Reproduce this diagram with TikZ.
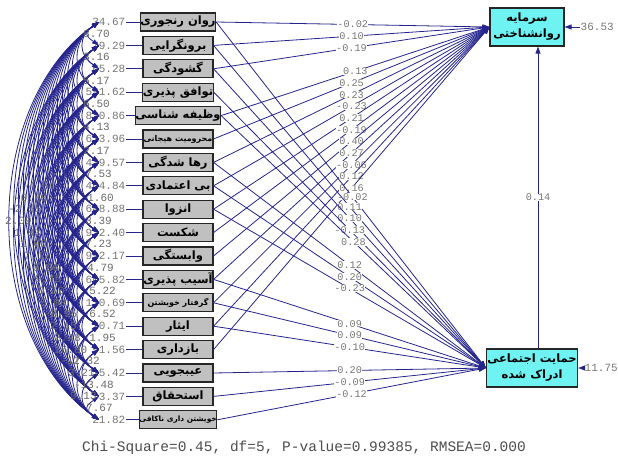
\documentclass[tikz,border=0pt]{standalone}
\usepackage{fontspec}
\setmonofont{Liberation Mono}
\newfontfamily\arabicfont[Script=Arabic]{DejaVu Sans}
\TeXXeTstate=1
\usepackage{tikz}
\usetikzlibrary{arrows.meta}
\definecolor{lisblue}{RGB}{36,36,140}
\definecolor{boxgray}{RGB}{192,192,192}
\definecolor{boxcyan}{RGB}{110,242,242}
\definecolor{labgray}{RGB}{118,118,118}
\tikzstyle{obs}=[draw=black!85, line width=1.1pt, fill=boxgray, minimum width=70pt, minimum height=18pt, inner sep=0pt, font=\arabicfont\bfseries\fontsize{11.5}{12}\selectfont]
\tikzstyle{obssmall}=[obs, font=\arabicfont\bfseries\fontsize{8}{8}\selectfont]
\tikzstyle{lat}=[draw=black!85, line width=1.1pt, fill=boxcyan, minimum height=38pt, align=center, inner sep=1pt, font=\arabicfont\bfseries\fontsize{11.5}{16}\selectfont]
\tikzstyle{coef}=[fill=white, inner sep=0.3pt, text=labgray, font=\ttfamily\fontsize{10.2}{10.2}\selectfont]
\tikzstyle{varlab}=[inner sep=0.5pt, text=labgray, font=\ttfamily\fontsize{11}{11}\selectfont]
\tikzstyle{covlab}=[inner sep=0pt, text=labgray!90!black, font=\ttfamily\fontsize{11}{11}\selectfont]
\tikzstyle{varline}=[draw=lisblue, line width=0.8pt]
\tikzstyle{lispath}=[draw=lisblue, line width=0.8pt, -{Triangle[length=7pt,width=5pt]}]
\tikzstyle{covarc}=[draw=lisblue, line width=0.8pt, {Triangle[length=7pt,width=4.5pt]}-{Triangle[length=7pt,width=4.5pt]}]

\begin{document}
\begin{tikzpicture}[x=1pt,y=-1pt]
\useasboundingbox (0,0) rectangle (618,460);

\node[obs] (obs1) at (178,22) {\beginR روان رنجوری\endR};
\node[obs] (obs2) at (178,45.4) {\beginR برونگرایی\endR};
\node[obs] (obs3) at (178,68.8) {\beginR گشودگی\endR};
\node[obs] (obs4) at (178,92.2) {\beginR توافق پذیری\endR};
\node[obs] (obs5) at (178,115.6) {\beginR وظیفه شناسی\endR};
\node[obssmall] (obs6) at (178,139) {\beginR محرومیت هیجانی\endR};
\node[obs] (obs7) at (178,162.4) {\beginR رها شدگی\endR};
\node[obs] (obs8) at (178,185.8) {\beginR بی اعتمادی\endR};
\node[obs] (obs9) at (178,209.2) {\beginR انزوا\endR};
\node[obs] (obs10) at (178,232.6) {\beginR شکست\endR};
\node[obs] (obs11) at (178,256) {\beginR وابستگی\endR};
\node[obs] (obs12) at (178,279.4) {\beginR آسیب پذیری\endR};
\node[obssmall] (obs13) at (178,302.8) {\beginR گرفتار خویشتن\endR};
\node[obs] (obs14) at (178,326.2) {\beginR ایثار\endR};
\node[obs] (obs15) at (178,349.6) {\beginR بازداری\endR};
\node[obs] (obs16) at (178,373) {\beginR عیبجویی\endR};
\node[obs] (obs17) at (178,396.4) {\beginR استحقاق\endR};
\node[obssmall, font=\arabicfont\bfseries\fontsize{7.4}{8}\selectfont] (obs18) at (178,419.8) {\beginR خویشتن داری ناکافی\endR};

\node[lat, minimum width=74pt] (psy) at (527,27) {\beginR سرمایه\endR\\\beginR روانشناختی\endR};
\node[lat, minimum width=81pt] (sup) at (532,368) {\beginR حمایت اجتماعی\endR\\\beginR ادراک شده\endR};

\node[varlab, anchor=east] (v1) at (126,22) {34.67};
\node[varlab, anchor=east] (v2) at (126,45.4) {79.29};
\node[varlab, anchor=east] (v3) at (126,68.8) {65.28};
\node[varlab, anchor=east] (v4) at (126,92.2) {591.62};
\node[varlab, anchor=east] (v5) at (126,115.6) {820.86};
\node[varlab, anchor=east] (v6) at (126,139) {613.96};
\node[varlab, anchor=east] (v7) at (126,162.4) {429.57};
\node[varlab, anchor=east] (v8) at (126,185.8) {464.84};
\node[varlab, anchor=east] (v9) at (126,209.2) {648.88};
\node[varlab, anchor=east] (v10) at (126,232.6) {922.40};
\node[varlab, anchor=east] (v11) at (126,256) {992.17};
\node[varlab, anchor=east] (v12) at (126,279.4) {605.82};
\node[varlab, anchor=east] (v13) at (126,302.8) {130.69};
\node[varlab, anchor=east] (v14) at (126,326.2) {20.71};
\node[varlab, anchor=east] (v15) at (126,349.6) {91.56};
\node[varlab, anchor=east] (v16) at (126,373) {15.42};
\node[varlab, anchor=east] (v17) at (126,396.4) {3.37};
\node[varlab, anchor=east] (v18) at (126,419.8) {21.82};

\foreach \i in {1,...,18}{
  \draw[varline] (v\i) -- (obs\i);
  \coordinate (a\i) at ([xshift=-27pt]v\i.east);
}

\foreach \i in {1,...,17}{
  \pgfmathtruncatemacro\nxt{\i+1}
  \foreach \j in {\nxt,...,18}{
    \pgfmathsetmacro\k{8+6.5*(\j-\i)}
    \draw[covarc] (a\i) .. controls +(-\k,0.7*\k) and +(-\k,-0.7*\k) .. (a\j);
  }
}

\node[covlab, anchor=east] (c1) at (110,34) {8.70};
\node[covlab, anchor=east] (c2) at (110,57) {3.16};
\node[covlab, anchor=east] (c3) at (110,80.5) {5.17};
\node[covlab, anchor=east] (c4) at (110,104) {6.50};
\node[covlab, anchor=east] (c5) at (110,127) {4.13};
\node[covlab, anchor=east] (c6) at (110,150.5) {2.17};
\node[covlab, anchor=east] (c7) at (112,174) {7.53};
\node[covlab, anchor=west] (c8) at (22,186) {-4.54};
\node[covlab, anchor=west] (c9) at (14,197.5) {-0.88};
\node[covlab, anchor=west] (c10) at (8,209) {-2.55};
\node[covlab, anchor=west] (c11) at (5,221) {2.09};
\node[covlab, anchor=west] (c12) at (14,233) {1.83};
\node[covlab, anchor=west] (c13) at (20,244) {1.00};
\node[covlab, anchor=west] (c14) at (24,256) {7.12};
\node[covlab, anchor=west] (c15) at (26,267.5) {-0.06};
\node[covlab, anchor=west] (c16) at (28,279) {-9.45};
\node[covlab, anchor=west] (c17) at (38,291) {0.10};
\node[covlab, anchor=west] (c18) at (40,302.5) {5.08};
\node[covlab, anchor=west] (c19) at (44,314) {-8.95};
\node[covlab, anchor=west] (c20) at (50,326) {2.15};
\node[covlab, anchor=west] (c21) at (54,337.5) {2.48};
\node[covlab, anchor=west] (c22) at (54,349.5) {16.80};
\node[covlab, anchor=west] (c23) at (60,361) {-12.32};
\node[covlab, anchor=west] (c24) at (68,373) {3.21};
\node[covlab, anchor=west] (c25) at (74,384.5) {-13.48};
\node[covlab, anchor=west] (c26) at (70,396) {9.13};
\node[covlab, anchor=west] (c27) at (86,407.5) {7.67};
\node[covlab, anchor=east] (c28) at (114,197.5) {1.60};
\node[covlab, anchor=east] (c29) at (112,221) {3.39};
\node[covlab, anchor=east] (c30) at (112,244) {7.23};
\node[covlab, anchor=east] (c31) at (114,267.5) {4.79};
\node[covlab, anchor=east] (c32) at (116,291) {5.22};
\node[covlab, anchor=east] (c33) at (116,314) {6.52};
\node[covlab, anchor=east] (c34) at (116,337.5) {1.95};

\draw[lispath] (obs1.east) -- node[coef]{-0.02} (psy.west);
\draw[lispath] (obs2.east) -- node[coef]{0.10} (psy.west);
\draw[lispath] (obs3.east) -- node[coef]{-0.19} (psy.west);
\draw[lispath] (obs5.east) -- node[coef]{0.13} (psy.west);
\draw[lispath] (obs6.east) -- node[coef]{0.25} (psy.west);
\draw[lispath] (obs7.east) -- node[coef]{0.23} (psy.west);
\draw[lispath] (obs8.east) -- node[coef]{-0.23} (psy.west);
\draw[lispath] (obs9.east) -- node[coef]{0.21} (psy.west);
\draw[lispath] (obs10.east) -- node[coef]{-0.19} (psy.west);
\draw[lispath] (obs11.east) -- node[coef]{0.40} (psy.west);
\draw[lispath] (obs12.east) -- node[coef]{0.27} (psy.west);
\draw[lispath] (obs13.east) -- node[coef]{-0.06} (psy.west);
\draw[lispath] (obs14.east) -- node[coef]{0.12} (psy.west);
\draw[lispath] (obs15.east) -- node[coef]{0.16} (psy.west);

\draw[lispath] (obs1.east) -- node[coef, pos=0.505]{-0.02} (sup.west);
\draw[lispath] (obs2.east) -- node[coef]{0.11} (sup.west);
\draw[lispath] (obs3.east) -- node[coef]{0.10} (sup.west);
\draw[lispath] (obs4.east) -- node[coef]{-0.13} (sup.west);
\draw[lispath] (obs5.east) -- node[coef]{0.28} (sup.west);
\draw[lispath] (obs7.east) -- node[coef]{0.12} (sup.west);
\draw[lispath] (obs8.east) -- node[coef]{0.20} (sup.west);
\draw[lispath] (obs9.east) -- node[coef]{-0.23} (sup.west);
\draw[lispath] (obs12.east) -- node[coef]{0.09} (sup.west);
\draw[lispath] (obs13.east) -- node[coef]{0.09} (sup.west);
\draw[lispath] (obs14.east) -- node[coef]{-0.10} (sup.west);
\draw[lispath] (obs16.east) -- node[coef]{0.20} (sup.west);
\draw[lispath] (obs17.east) -- node[coef]{-0.09} (sup.west);
\draw[lispath] (obs18.east) -- node[coef]{-0.12} (sup.west);

\draw[lispath] ([xshift=6pt]sup.north) -- node[coef]{0.14} ([xshift=11pt]psy.south);

\node[varlab, anchor=west] (e1) at (580,27) {36.53};
\node[varlab, anchor=west] (e2) at (584,368) {11.75};
\draw[lispath] (e1) -- (psy);
\draw[lispath] (e2) -- (sup);

\node[text=black!70, font=\ttfamily\fontsize{14.5}{15}\selectfont] (fit) at (304,448) {Chi-Square=0.45, df=5, P-value=0.99385, RMSEA=0.000};
\end{tikzpicture}
\end{document}
